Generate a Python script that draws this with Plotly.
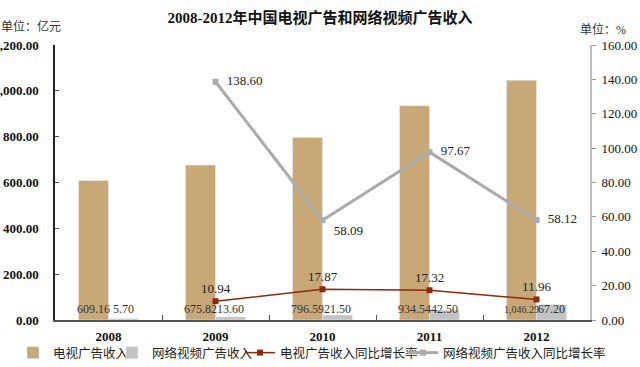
import plotly.graph_objects as go

years = ["2008", "2009", "2010", "2011", "2012"]
tv_revenue = [609.16, 675.82, 796.59, 934.54, 1046.29]
web_revenue = [5.70, 13.60, 21.50, 42.50, 67.20]
growth_years = ["2009", "2010", "2011", "2012"]
tv_growth = [10.94, 17.87, 17.32, 11.96]
web_growth = [138.60, 58.09, 97.67, 58.12]

FONT = "Liberation Serif, Noto Sans CJK SC"
TAN = "#C9A878"
GRAY = "#C3C3C3"
RED = "#8B2A0C"
LGRAY = "#ABABAB"

fig = go.Figure()
fig.add_trace(go.Bar(x=years, y=tv_revenue, name="电视广告收入", marker_color=TAN, yaxis="y",
                     legend="legend"))
fig.add_trace(go.Bar(x=years, y=web_revenue, name="网络视频广告收入", marker_color=GRAY, yaxis="y",
                     legend="legend2"))
fig.add_trace(go.Scatter(x=growth_years, y=tv_growth, name="电视广告收入同比增长率",
                         mode="lines+markers+text", yaxis="y2", legend="legend3",
                         line=dict(color=RED, width=1.5),
                         marker=dict(symbol="square", size=6, color=RED),
                         text=[f"{v:.2f}" for v in tv_growth], textposition="top center",
                         textfont=dict(family=FONT, size=13, color="#222")))
fig.add_trace(go.Scatter(x=growth_years, y=web_growth, name="网络视频广告收入同比增长率",
                         mode="lines+markers+text", yaxis="y2", legend="legend4",
                         line=dict(color=LGRAY, width=3),
                         marker=dict(symbol="square", size=6, color=LGRAY),
                         text=["  " + f"{v:.2f}" for v in web_growth],
                         textposition=["middle right", "bottom right", "middle right", "middle right"],
                         textfont=dict(family=FONT, size=13, color="#222")))

annotations = []
for i, (tv, web) in enumerate(zip(tv_revenue, web_revenue)):
    for val, shift in ((tv, -15), (web, 15)):
        txt = f"{val:,.2f}"
        annotations.append(dict(x=i, y=0, xref="x", yref="y", text=txt, showarrow=False,
                                xshift=shift, yshift=11,
                                font=dict(family=FONT, size=12 if len(txt) <= 6 else 10, color="#333")))
annotations += [
    dict(text="单位：亿元", x=0, y=1.0, xref="paper", yref="paper", xanchor="left", yanchor="bottom",
         showarrow=False, xshift=-56, yshift=9, font=dict(family=FONT, size=12, color="#333")),
    dict(text="单位：%", x=1, y=1.0, xref="paper", yref="paper", xanchor="left", yanchor="bottom",
         showarrow=False, xshift=-12, yshift=6, font=dict(family=FONT, size=12, color="#333")),
]

def leg(px):
    return dict(orientation="h", xref="container", yref="container", x=px / 640, xanchor="left",
                y=1 - 353 / 367, yanchor="middle", font=dict(family=FONT, size=12.5, color="#222"),
                bgcolor="rgba(0,0,0,0)", borderwidth=0, itemwidth=30)

fig.update_layout(
    width=640, height=367,
    margin=dict(l=55, r=50, t=45, b=47, autoexpand=False),
    paper_bgcolor="white", plot_bgcolor="white",
    title=dict(text="<b>2008-2012年中国电视广告和网络视频广告收入</b>", x=0.5, xanchor="center",
               xref="container", yref="container",
               y=1 - 18 / 367, yanchor="middle", font=dict(family=FONT, size=15, color="#111")),
    barmode="group", bargap=0.44, bargroupgap=0,
    font=dict(family=FONT, size=12, color="#222"),
    xaxis=dict(type="category", range=[-0.5, 4.5], showline=True, linecolor="#555", linewidth=1.5,
               ticks="inside", tickson="boundaries", ticklen=5, tickcolor="#555",
               ticklabelstandoff=4,
               tickfont=dict(family=FONT, size=13, color="#111", weight="bold"), showgrid=False),
    yaxis=dict(range=[0, 1200], dtick=200, tickformat=",.2f", showline=True, linecolor="#222",
               linewidth=1.5, ticks="inside", ticklen=4, tickcolor="#555", showgrid=False,
               zeroline=False, automargin=False, ticklabelstandoff=12,
               tickfont=dict(family=FONT, size=13, color="#111", weight="bold")),
    yaxis2=dict(range=[0, 160], dtick=20, tickformat=".2f", overlaying="y", side="right",
                showline=True, linecolor="#BDBDBD", linewidth=2, ticks="outside", ticklen=4,
                tickcolor="#999", showgrid=False, zeroline=False, automargin=False,
                ticklabelstandoff=3,
                tickfont=dict(family=FONT, size=13, color="#111")),
    legend=leg(13), legend2=leg(112), legend3=leg(240), legend4=leg(403),
    annotations=annotations,
    showlegend=True,
)

fig.write_html("out.html", config={"displayModeBar": False},
               post_script="document.body.style.margin='0';document.body.style.overflow='hidden';")
